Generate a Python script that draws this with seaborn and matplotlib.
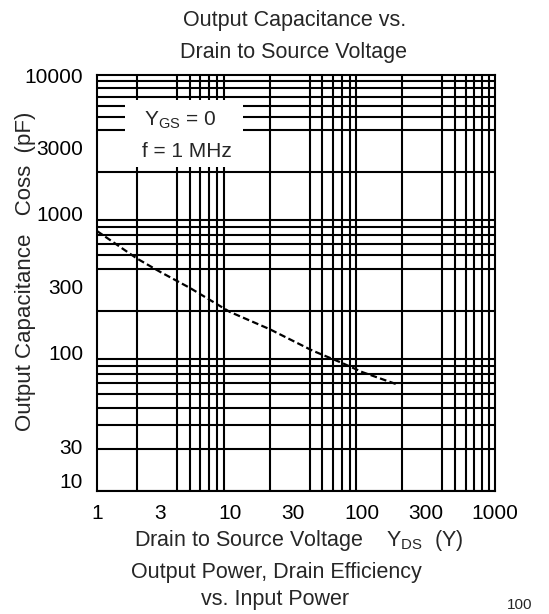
import matplotlib
matplotlib.use("Agg")
import matplotlib.pyplot as plt
import matplotlib.ticker as mticker
from matplotlib.patches import Rectangle
import pandas as pd
import seaborn as sns

# Coss vs VDS
vds = [1, 2, 3, 5, 10, 20, 30, 42, 70, 100, 180]
coss = [750, 475, 380, 292, 196, 147, 121, 103, 84, 72, 59]

xtick_vals = [1, 3, 10, 30, 100, 300, 1000]
xtick_labels = ["1", "3", "10", "30", "100", "300", "1000"]
# the bottom two labels sit off their gridlines in the scan
ytick_at = [10000, 3000, 1000, 300, 100, 21, 12]
ytick_labels = ["10000", "3000", "1000", "300", "100", "30", "10"]

sns.set_style("white")
plt.rcParams["font.family"] = ["Liberation Sans", "DejaVu Sans"]
plt.rcParams["mathtext.fontset"] = "custom"
plt.rcParams["mathtext.rm"] = "Liberation Sans"

fig = plt.figure(figsize=(5.49, 6.14), dpi=100)
ax = fig.add_axes([0.1767, 0.2003, 0.725, 0.6775])

df = pd.DataFrame({"vds": vds, "coss": coss})
sns.lineplot(data=df, x="vds", y="coss", ax=ax, color="black", lw=1.6,
             linestyle=(0, (3, 1.5)), zorder=3)

ax.set_xscale("log")
ax.set_yscale("log")
ax.set_xlim(1, 1000)
ax.set_ylim(10, 10000)

# grid lines come from the minor locators (1..9 per decade)
ax.xaxis.set_minor_locator(mticker.LogLocator(base=10, subs=range(1, 10)))
ax.yaxis.set_minor_locator(mticker.LogLocator(base=10, subs=range(1, 10)))
ax.xaxis.set_minor_formatter(mticker.NullFormatter())
ax.yaxis.set_minor_formatter(mticker.NullFormatter())
ax.set_xticks(xtick_vals, labels=xtick_labels)
ax.set_yticks(ytick_at, labels=ytick_labels)
ax.tick_params(which="both", length=0, labelsize=15, colors="black")
ax.tick_params(axis="x", pad=9)
ax.tick_params(axis="y", pad=10)

ax.set_axisbelow(True)
ax.grid(which="major", visible=False)
ax.grid(which="minor", color="black", lw=1.5)
for s in ax.spines.values():
    s.set_color("black")
    s.set_linewidth(1.5)
ax.set_xlabel("")
ax.set_ylabel("")

# white box for the conditions
ax.add_patch(Rectangle((0.070, 0.779), 0.297, 0.161, transform=ax.transAxes,
                       facecolor="white", edgecolor="none", zorder=2))
ax.text(0.21, 0.891, r"Y$_{\mathrm{GS}}$ = 0", transform=ax.transAxes,
        fontsize=15, ha="center", va="center", zorder=4)
ax.text(0.226, 0.817, "f = 1 MHz", transform=ax.transAxes,
        fontsize=15, ha="center", va="center", zorder=4)

fig.text(0.536, 0.967, "Output Capacitance vs.", fontsize=15.5,
         ha="center", va="center")
fig.text(0.534, 0.914, "Drain to Source Voltage", fontsize=15.5,
         ha="center", va="center")
fig.text(0.046, 0.558, "Output Capacitance   Coss  (pF)", fontsize=16,
         rotation=90, ha="center", va="center")
fig.text(0.545, 0.119, r"Drain to Source Voltage    Y$_{\mathrm{DS}}$  (Y)",
         fontsize=15.5, ha="center", va="center")
fig.text(0.503, 0.068, "Output Power, Drain Efficiency", fontsize=15.5,
         ha="center", va="center")
fig.text(0.501, 0.023, "vs. Input Power", fontsize=15.5,
         ha="center", va="center")
fig.text(0.947, 0.003, "100", fontsize=11, ha="center", va="bottom")

fig.savefig("out.png", dpi=100)
